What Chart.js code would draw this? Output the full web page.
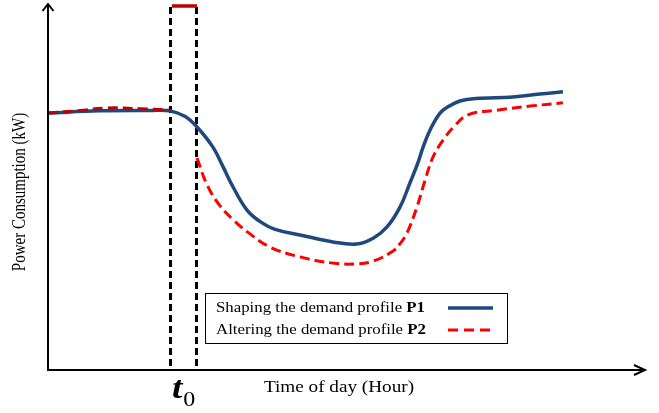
<!DOCTYPE html>
<html><head><meta charset="utf-8">
<script src="https://cdn.jsdelivr.net/npm/chart.js@4"></script>
<style>html,body{margin:0;padding:0;background:#fff;}canvas{display:block}</style>
</head><body>
<canvas id="c" width="659" height="413"></canvas>
<script>
// ---- data (x in hours of the day, y in relative power units) ----
const p1Hours  = [0.00, 2.09, 4.10, 4.90, 5.50, 5.99, 6.63, 7.04, 7.44, 8.00, 8.52, 9.10, 10.13, 11.46, 12.40, 13.07, 13.63, 14.15, 14.55, 14.87, 15.08, 15.36, 15.76, 16.10, 16.56, 17.20, 18.69, 19.78, 20.70];
const p1Values = [70.2, 70.8, 70.9, 70.8, 69.3, 66.4, 60.9, 55.5, 50.0, 43.7, 40.6, 38.5, 36.9, 35.0, 34.4, 36.0, 39.1, 44.5, 51.1, 56.6, 60.9, 65.6, 70.2, 72.0, 73.5, 74.2, 74.6, 75.4, 76.0];
const p2Hours  = [0.00, 1.29, 2.37, 3.70, 4.90, 5.40, 5.99, 6.40, 6.90, 7.45, 8.00, 8.92, 10.13, 11.46, 12.42, 13.10, 13.87, 14.15, 14.43, 14.83, 15.16, 15.48, 15.88, 16.30, 16.88, 18.05, 19.38, 20.70];
const p2Values = [70.2, 70.9, 71.6, 71.4, 71.0, null, 57.9, 50.5, 45.0, 41.0, 37.8, 33.6, 30.9, 29.2, 29.0, 29.8, 32.5, 34.5, 37.4, 44.5, 51.9, 58.2, 62.8, 66.3, 69.7, 71.0, 72.1, 73.0];
const t0Window = [4.90, 5.95];
const seriesNames = ['Shaping the demand profile ', 'Altering the demand profile '];
const seriesTags = ['P1', 'P2'];
const axisTitles = ['Time of day (Hour)', 'Power Consumption (kW)'];
const markerLabel = ['t', '0'];

const SERIF = '"Liberation Serif", "DejaVu Serif", serif';
const BLUE = '#1F497D', RED = '#FF0000', DARKRED = '#C00000';
const SX = 1.2; // horizontal stretch of the original figure's text

function stretchedText(ctx, txt, x, y, font, align) {
  ctx.save();
  ctx.font = font;
  ctx.textBaseline = 'alphabetic';
  ctx.translate(x, y);
  ctx.scale(SX, 1);
  const w = ctx.measureText(txt).width;
  let ox = 0;
  if (align === 'center') ox = -w / 2;
  ctx.fillText(txt, ox, 0);
  ctx.restore();
  return w * SX;
}

const deco = {
  id: 'deco',
  beforeDatasetsDraw(chart) {
    const {ctx, chartArea: a, scales: {x}} = chart;
    ctx.save();
    ctx.strokeStyle = '#000';
    ctx.lineWidth = 3;
    ctx.setLineDash([7, 4]);
    t0Window.forEach(h => {
      const px = Math.round(x.getPixelForValue(h)) + 0.5;
      ctx.beginPath(); ctx.moveTo(px, a.top + 3); ctx.lineTo(px, a.bottom); ctx.stroke();
    });
    ctx.setLineDash([]);
    ctx.strokeStyle = DARKRED;
    ctx.lineWidth = 3.5;
    ctx.beginPath();
    ctx.moveTo(x.getPixelForValue(t0Window[0]) + 2, a.top + 2);
    ctx.lineTo(x.getPixelForValue(t0Window[1]) + 1, a.top + 2);
    ctx.stroke();
    ctx.restore();
  },
  afterDatasetsDraw(chart) {
    const {ctx, chartArea: a, scales: {x}} = chart;
    ctx.save();
    // axes with arrows
    ctx.strokeStyle = '#000'; ctx.lineWidth = 2; ctx.setLineDash([]);
    ctx.beginPath();
    ctx.moveTo(a.left, a.bottom); ctx.lineTo(a.left, a.top + 1);
    ctx.moveTo(a.left - 1, a.bottom); ctx.lineTo(a.right, a.bottom);
    ctx.stroke();
    ctx.beginPath();
    ctx.moveTo(a.left - 5.5, a.top + 7); ctx.lineTo(a.left, a.top); ctx.lineTo(a.left + 5.5, a.top + 7);
    ctx.moveTo(a.right - 11, a.bottom - 5); ctx.lineTo(a.right, a.bottom); ctx.lineTo(a.right - 11, a.bottom + 5);
    ctx.stroke();

    ctx.fillStyle = '#000';
    // x title
    stretchedText(ctx, axisTitles[0], 339, 392, '16px ' + SERIF, 'center');
    // y title (rotated)
    ctx.save();
    ctx.translate(25, 192);
    ctx.rotate(-Math.PI / 2);
    ctx.scale(1, SX);
    ctx.font = '15px ' + SERIF;
    ctx.textAlign = 'center';
    ctx.fillText(axisTitles[1], 0, 0);
    ctx.restore();

    // t0 marker label
    const tx = x.getPixelForValue(t0Window[0]) + 2;
    const wt = stretchedText(ctx, markerLabel[0], tx, 398, 'italic bold 31px ' + SERIF, 'left');
    stretchedText(ctx, markerLabel[1], tx + wt + 1, 406, '20px ' + SERIF, 'left');

    // legend box
    const L = {x: 205.5, y: 293.5, w: 302, h: 50};
    ctx.lineWidth = 1;
    ctx.strokeRect(L.x, L.y, L.w, L.h);
    const rows = [
      {y: 312, ly: 308, color: BLUE, dash: []},
      {y: 334, ly: 330, color: RED, dash: [10, 6]}
    ];
    const dsets = chart.data.datasets;
    rows.forEach((r, i) => {
      const w = stretchedText(ctx, seriesNames[i], 216, r.y, '14px ' + SERIF, 'left');
      stretchedText(ctx, seriesTags[i], 216 + w, r.y, 'bold 14px ' + SERIF, 'left');
      ctx.save();
      ctx.strokeStyle = r.color;
      ctx.lineWidth = dsets[i].borderWidth;
      ctx.setLineDash(r.dash);
      ctx.beginPath(); ctx.moveTo(448, r.ly); ctx.lineTo(493, r.ly); ctx.stroke();
      ctx.restore();
    });
    ctx.restore();
  }
};

const toPts = (xs, ys) => xs.map((h, i) => ({x: h, y: ys[i]}));

new Chart(document.getElementById('c'), {
  type: 'line',
  data: {
    datasets: [
      {
        label: seriesNames[0] + seriesTags[0],
        data: toPts(p1Hours, p1Values),
        borderColor: BLUE, borderWidth: 3.5,
        pointRadius: 0, tension: 0.4, fill: false, order: 2
      },
      {
        label: seriesNames[1] + seriesTags[1],
        data: toPts(p2Hours, p2Values),
        borderColor: RED, borderWidth: 3, borderDash: [10, 5],
        pointRadius: 0, tension: 0.4, fill: false, spanGaps: false, order: 1,
        segment: { borderColor: c => (c.p1.parsed.x <= t0Window[0] ? DARKRED : RED) }
      }
    ]
  },
  options: {
    responsive: false,
    animation: false,
    events: [],
    layout: {padding: {left: 48, right: 14, top: 4, bottom: 43}},
    scales: {
      x: {type: 'linear', min: 0, max: 24, display: false},
      y: {min: 0, max: 100, display: false}
    },
    plugins: {legend: {display: false}, tooltip: {enabled: false}}
  },
  plugins: [deco]
});
</script>
</body></html>
